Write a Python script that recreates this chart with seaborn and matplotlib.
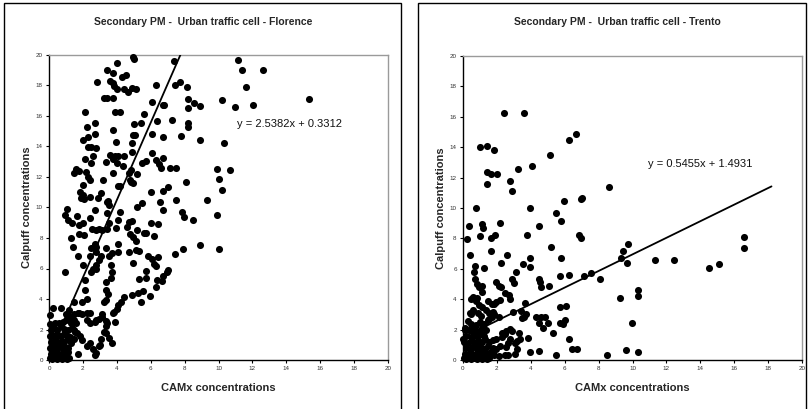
import matplotlib
matplotlib.use("Agg")
import matplotlib.pyplot as plt
import seaborn as sns
import pandas as pd
import numpy as np
from matplotlib.patches import Rectangle

# ---------------- data ----------------
florence_camx = [
    4.95, 5.0, 3.4, 4.0, 3.8, 4.3, 4.55, 2.85, 3.6, 3.75, 3.85, 4.0, 4.45, 4.65, 4.9, 5.15,
    3.25, 3.45, 3.8, 3.9, 4.2, 2.15, 2.25, 2.7, 2.7, 2.0, 2.3, 2.3, 2.45, 2.75, 2.1, 2.6, 2.5,
    1.6, 1.75, 1.5, 2.2, 2.3, 2.4, 2.0, 2.0, 1.9, 2.05, 1.8, 2.4, 1.05, 0.95, 1.1, 1.65, 2.4,
    1.35, 2.0, 2.7, 2.9, 3.05, 3.2, 3.35, 3.6, 3.8, 3.9, 4.0, 4.1, 3.95, 3.8, 3.75, 4.05, 4.2,
    4.35, 4.45, 4.7, 4.85, 4.9, 4.9, 4.95, 5.05, 4.8, 4.85, 4.95, 5.0, 5.45, 5.6, 5.2, 5.5, 5.75,
    5.5, 5.2, 6.1, 6.3, 7.35, 7.75, 7.45, 8.15, 8.2, 8.2, 8.2, 8.2, 8.55, 8.9, 6.75, 6.8, 6.4,
    7.25, 6.05, 6.75, 7.8, 8.9, 6.1, 6.3, 6.5, 6.6, 6.75, 7.15, 7.5, 8.1, 6.0, 6.75, 7.0, 6.55,
    6.75, 7.5, 7.85, 7.95, 8.5, 9.3, 9.9, 10.0, 10.2, 10.35, 10.65, 9.9, 10.05, 8.9, 7.9, 7.45,
    10.2, 11.15, 11.4, 11.6, 12.65, 12.05, 10.95, 15.35,
    1.3, 1.4, 0.95, 1.75, 1.75, 2.05, 1.7, 2.0, 2.55, 2.75, 2.7, 2.8, 2.95, 3.1, 3.4, 3.55,
    3.4, 3.5, 3.45, 3.55, 3.95, 4.1, 4.2, 4.05, 4.05, 4.6, 4.7, 4.9, 4.8, 4.95, 4.7, 5.2, 5.15,
    5.15, 5.3, 4.95, 5.6, 5.75, 6.0, 6.45, 6.2, 5.85, 6.05, 6.2, 6.3, 6.45, 7.05, 6.95, 6.7,
    6.35, 6.3, 6.65, 5.75, 5.75, 5.3, 5.55, 5.4, 5.95, 4.9, 5.25, 4.45, 4.25, 4.1, 4.0, 3.85,
    3.75, 3.9, 3.7, 3.55, 3.35, 3.25, 3.05, 3.0, 3.35, 3.45, 3.35, 3.15, 3.25, 3.35, 3.35, 3.5,
    3.35, 3.65, 3.7, 3.65, 3.55, 3.7, 3.35, 3.05, 2.95, 2.8, 2.75, 2.5, 2.6, 2.4, 2.45, 2.75,
    2.1, 2.1, 2.25, 1.95, 1.75, 1.95, 2.25, 2.4, 2.25, 2.4, 2.7, 2.8, 2.95, 3.15, 2.25, 2.4,
    2.6, 2.8, 2.7, 2.95, 1.7, 1.65, 1.85, 1.95, 1.45, 1.55, 1.3, 1.15, 1.3, 1.4, 1.0, 0.7,
    0.25, 0.05, 1.2, 1.5,
    0.05, 0.15, 0.3, 0.45, 0.6, 0.75, 0.9, 1.05, 1.2, 0.1, 0.25, 0.4, 0.55, 0.7, 0.85, 1.0,
    1.15, 0.05, 0.2, 0.35, 0.5, 0.65, 0.8, 0.95, 1.1, 0.1, 0.25, 0.4, 0.55, 0.75, 0.9, 1.1,
    1.3, 0.05, 0.2, 0.35, 0.5, 0.7, 0.9, 1.05, 1.25, 1.45, 0.1, 0.3, 0.5, 0.7, 0.9, 1.1,
    0.05, 0.35, 0.6, 0.85, 0.15, 1.35, 1.5, 1.2, 1.45, 1.6, 1.7, 1.0,
]
florence_calpuff = [
    19.9, 19.75, 19.0, 19.45, 18.8, 18.55, 18.7, 18.25, 18.3, 18.15, 17.95, 17.75, 17.75, 17.6,
    17.85, 17.75, 17.15, 17.15, 17.15, 16.25, 16.25, 16.25, 15.3, 15.55, 14.85, 14.4, 14.65,
    13.95, 13.95, 13.9, 13.2, 13.4, 12.95, 12.5, 12.4, 12.25, 12.3, 12.0, 11.8, 11.45, 10.8,
    10.6, 10.55, 11.0, 10.7, 9.9, 9.5, 9.2, 9.45, 9.3, 9.0, 9.0, 9.85, 10.65, 10.95, 11.8,
    13.0, 13.45, 13.15, 13.4, 12.9, 13.35, 14.3, 15.1, 12.25, 11.4, 11.4, 12.7, 13.35, 12.25,
    12.45, 13.65, 14.25, 14.75, 14.75, 11.8, 11.7, 11.6, 15.45, 15.55, 16.1, 12.2, 12.95,
    13.05, 10.3, 10.05, 16.9, 18.05, 19.6, 18.25, 18.05, 17.9, 17.1, 16.5, 15.55, 15.25,
    16.85, 16.65, 16.75, 16.75, 15.7, 15.75, 14.8, 14.65, 14.7, 14.4, 13.55, 13.1, 12.85,
    12.6, 13.25, 12.6, 12.6, 11.7, 11.0, 11.1, 11.35, 10.35, 9.85, 10.5, 9.7, 9.35, 9.2,
    10.5, 12.5, 11.9, 11.15, 14.2, 12.45, 9.5, 7.3, 7.55, 7.3, 6.95, 17.05, 19.7, 19.0,
    17.9, 19.0, 16.7, 16.6, 17.1,
    8.0, 7.4, 5.75, 8.85, 8.25, 8.2, 6.85, 6.2, 8.6, 8.55, 7.6, 7.4, 8.6, 8.55, 8.6, 9.0,
    9.65, 10.45, 10.35, 10.15, 8.65, 9.2, 9.7, 7.6, 7.1, 8.75, 9.05, 9.1, 8.25, 8.05, 7.1,
    8.5, 7.8, 7.2, 7.15, 6.35, 8.3, 8.35, 9.0, 8.95, 8.15, 6.85, 6.65, 6.3, 6.15, 6.75, 5.9,
    5.75, 5.5, 5.25, 4.8, 5.15, 5.85, 5.4, 5.3, 4.5, 3.8, 4.2, 4.25, 4.4, 4.1, 3.8, 3.6, 3.35,
    3.15, 3.05, 2.5, 1.1, 1.45, 1.75, 1.85, 1.35, 1.0, 2.2, 2.4, 2.55, 3.0, 3.8, 3.95, 4.6,
    4.35, 5.1, 5.4, 5.8, 6.2, 6.8, 7.0, 7.35, 6.8, 6.55, 6.2, 6.0, 5.75, 5.95, 6.8, 7.35, 7.05,
    5.25, 4.6, 4.0, 3.8, 3.1, 3.0, 3.05, 3.05, 2.6, 2.4, 2.5, 2.65, 2.7, 2.8, 0.9, 1.1, 0.75,
    0.45, 0.3, 0.9, 0.4, 1.75, 1.55, 1.3, 2.0, 1.85, 2.4, 2.95, 2.8, 2.65, 3.0, 3.4, 3.4, 2.95,
    3.3, 3.8,
    0.1, 0.05, 0.1, 0.05, 0.1, 0.05, 0.1, 0.05, 0.15, 0.4, 0.35, 0.45, 0.3, 0.4, 0.35, 0.45,
    0.5, 0.8, 0.75, 0.85, 0.7, 0.9, 0.75, 0.85, 0.8, 1.2, 1.15, 1.3, 1.1, 1.25, 1.2, 1.35,
    1.1, 1.6, 1.65, 1.55, 1.7, 1.6, 1.7, 1.55, 1.5, 1.4, 2.0, 2.1, 2.0, 2.2, 2.05, 1.95,
    2.35, 2.45, 2.4, 2.5, 2.2, 2.1, 2.6, 2.7, 3.0, 2.4, 3.1, 2.6,
]

trento_camx = [
    2.4, 3.6, 1.0, 1.4, 1.85, 1.4, 1.65, 2.0, 1.4, 2.75, 2.9, 3.25, 4.1, 5.15, 6.25, 6.65,
    0.75, 3.95, 5.5, 5.95, 6.95, 7.05, 8.6, 0.35, 0.25, 1.15, 1.2, 2.2, 1.0, 1.65, 1.9, 3.75,
    4.5, 5.8, 6.85, 6.95, 0.4, 1.65, 2.6, 5.2, 5.8, 0.7, 1.25, 2.25, 3.95, 3.95, 3.55, 3.15,
    2.9, 3.0, 5.7, 6.25, 7.15, 7.55, 8.1, 9.3, 9.45, 9.75, 9.7, 11.3, 12.45, 14.5, 15.1,
    16.6, 16.6, 4.5, 4.55, 4.6, 5.05, 9.25, 10.3, 10.35, 9.95, 9.6, 10.35, 8.5, 6.75, 6.45,
    6.25, 5.5, 5.3, 4.5, 3.95, 3.85, 5.7, 6.05, 5.7, 5.9, 6.0, 5.0, 4.3, 4.6, 4.85, 4.5, 4.7,
    3.65, 3.45, 3.6, 3.5, 3.7, 2.95, 2.75, 2.5, 2.7, 1.95, 2.1, 2.25, 1.1, 1.15, 0.7, 0.85,
    0.95, 0.65, 0.6, 0.75, 0.4, 0.9, 1.15, 1.35, 1.5, 1.7, 1.85, 1.95, 2.2, 1.55, 1.75, 1.85,
    1.55, 1.7, 2.1, 2.3, 2.45, 2.3, 2.55, 2.8, 2.9, 2.75, 2.65, 2.55, 3.05, 3.2, 3.35, 3.2,
    3.05, 3.3, 1.95, 2.2, 2.45, 2.65, 2.1, 1.85, 1.75, 1.95, 0.1, 0.1, 0.0,
    0.05, 0.2, 0.35, 0.5, 0.65, 0.8, 0.95, 1.1, 1.25, 1.4, 1.55, 0.1, 0.3, 0.45, 0.6, 0.75,
    0.9, 1.05, 1.2, 1.35, 1.5, 1.65, 0.15, 0.4, 0.6, 0.8, 0.95, 1.15, 1.3, 1.5, 1.75, 0.05,
    0.3, 0.55, 0.7, 0.9, 1.1, 1.3, 1.55, 0.2, 0.45, 0.65, 0.85, 1.05, 1.25, 0.35, 0.6, 0.85,
    1.1, 1.35, 0.5, 0.75, 1.0, 1.25, 0.3, 1.5, 0.45, 0.6, 0.95, 1.05, 0.8, 0.5,
]
trento_calpuff = [
    16.25, 16.25, 14.0, 14.05, 13.8, 12.4, 12.25, 12.25, 11.55, 11.75, 11.1, 12.55, 12.75,
    13.5, 14.5, 14.85, 10.0, 10.0, 9.7, 10.45, 10.6, 10.65, 11.4, 8.8, 7.95, 8.95, 8.7, 9.0,
    8.15, 8.0, 8.2, 8.2, 8.8, 9.15, 8.25, 8.05, 6.9, 7.2, 6.9, 7.45, 6.7, 6.2, 6.05, 6.35,
    6.7, 6.1, 6.3, 5.8, 5.3, 5.05, 5.55, 5.6, 5.5, 5.7, 5.35, 6.7, 7.15, 7.65, 6.35, 6.55,
    6.6, 6.05, 6.3, 8.1, 7.35, 5.35, 5.15, 4.8, 4.9, 4.05, 4.6, 4.2, 2.45, 0.65, 0.55, 0.35,
    0.7, 0.75, 1.4, 0.35, 1.8, 0.6, 0.5, 1.45, 3.5, 3.55, 2.45, 2.4, 2.6, 2.45, 2.8, 2.8, 2.8,
    2.45, 2.1, 3.75, 3.2, 2.8, 2.75, 3.0, 3.15, 4.0, 4.4, 4.3, 5.15, 4.9, 4.8, 4.85, 4.5, 5.35,
    5.0, 4.8, 5.8, 4.15, 3.9, 3.1, 3.1, 3.5, 3.3, 3.85, 3.7, 3.7, 3.8, 3.95, 3.1, 3.15, 3.0,
    2.7, 2.8, 2.8, 1.75, 1.7, 1.5, 1.9, 2.05, 1.9, 1.35, 1.1, 0.85, 1.1, 1.25, 1.4, 0.7, 0.4,
    1.8, 0.75, 0.9, 0.35, 0.35, 0.25, 0.35, 1.3, 1.35, 2.0, 2.1, 1.35,
    0.1, 0.05, 0.15, 0.05, 0.1, 0.05, 0.15, 0.05, 0.1, 0.05, 0.15, 0.4, 0.35, 0.45, 0.3, 0.4,
    0.35, 0.5, 0.4, 0.45, 0.35, 0.5, 0.8, 0.75, 0.85, 0.7, 0.9, 0.8, 0.75, 0.9, 0.8, 1.2,
    1.15, 1.25, 1.1, 1.3, 1.2, 1.35, 1.2, 1.6, 1.5, 1.65, 1.55, 1.7, 1.6, 1.95, 2.05, 1.9,
    2.1, 2.0, 2.4, 2.3, 2.5, 2.35, 2.55, 2.6, 3.0, 3.3, 3.6, 2.9, 4.1, 4.0,
]

florence_fit = (2.5382, 0.3312)   # slope, intercept
trento_fit = (0.5455, 1.4931)
florence_line_end = 7.75
trento_line_end = 18.2

titles = ["Secondary PM -  Urban traffic cell - Florence",
          "Secondary PM -  Urban traffic cell - Trento"]
x_label = "CAMx concentrations"
y_label = "Calpuff concentrations"
ticks = [0, 2, 4, 6, 8, 10, 12, 14, 16, 18, 20]

# ---------------- plotting ----------------
sns.set_theme(style="white")
plt.rcParams['font.family'] = ['Liberation Sans', 'DejaVu Sans']

W, H = 808, 409
fig = plt.figure(figsize=(W / 100, H / 100), dpi=100)

panels = [
    dict(x=florence_camx, y=florence_calpuff, fit=florence_fit, end=florence_line_end,
         ax_rect=(49, 55, 388, 360), frame=(4, 3, 401, 412),
         title_x=203, ylab_x=27, eq_pos=(11.1, 15.5)),
    dict(x=trento_camx, y=trento_calpuff, fit=trento_fit, end=trento_line_end,
         ax_rect=(463, 56, 802, 360), frame=(418, 3, 806, 412),
         title_x=617, ylab_x=441, eq_pos=(10.9, 12.9)),
]

for i, p in enumerate(panels):
    x0, y0, x1, y1 = p["ax_rect"]
    ax = fig.add_axes([x0 / W, 1 - y1 / H, (x1 - x0) / W, (y1 - y0) / H])
    df = pd.DataFrame({"camx": p["x"], "calpuff": p["y"]})
    sns.scatterplot(data=df, x="camx", y="calpuff", ax=ax, color="black",
                    s=26, edgecolor="black", linewidth=0, zorder=3, clip_on=False)
    slope, icpt = p["fit"]
    lx = np.array([0.0, p["end"]])
    ax.plot(lx, slope * lx + icpt, color="black", lw=1.3, zorder=4)
    eq = f"y = {slope:.4f}x + {icpt:.4f}"
    ax.text(p["eq_pos"][0], p["eq_pos"][1], eq, fontsize=8, ha="left", va="center",
            color="#111111")

    ax.set_xlim(0, 20)
    ax.set_ylim(0, 20)
    ax.set_xticks(ticks)
    ax.set_yticks(ticks)
    ax.tick_params(axis="both", labelsize=4.5, length=2.5, width=0.8, color="black",
                   direction="out", pad=2, labelcolor="#333333", bottom=True, left=True)
    ax.set_xlabel("")
    ax.set_ylabel("")
    for s in ["left", "bottom"]:
        ax.spines[s].set_color("black")
        ax.spines[s].set_linewidth(1.0)
    for s in ["top", "right"]:
        ax.spines[s].set_color("#9a9a9a")
        ax.spines[s].set_linewidth(1.0)
    ax.set_facecolor("white")

    # axis labels
    fig.text((x0 + x1) / 2 / W, 1 - 388 / H, x_label, ha="center", va="center",
             fontsize=8, fontweight="bold")
    fig.text(p["ylab_x"] / W, 1 - ((y0 + y1) / 2) / H, y_label, ha="center", va="center",
             fontsize=8, fontweight="bold", rotation=90)
    # title
    fig.text(p["title_x"] / W, 1 - 22 / H, titles[i], ha="center", va="center",
             fontsize=7.5, fontweight="bold")
    # frame
    fx0, fy0, fx1, fy1 = p["frame"]
    fig.patches.append(Rectangle((fx0 / W, 1 - fy1 / H), (fx1 - fx0) / W, (fy1 - fy0) / H,
                                 transform=fig.transFigure, fill=False, edgecolor="black",
                                 linewidth=1.0))

fig.savefig("out.png", dpi=100, facecolor="white")
